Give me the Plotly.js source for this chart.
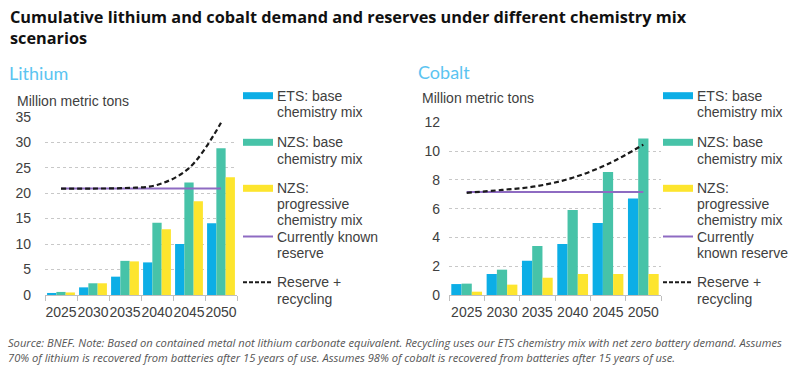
<!DOCTYPE html>
<html>
<head>
<meta charset="utf-8">
<script src="https://cdn.plot.ly/plotly-3.0.1.min.js"></script>
<style>html,body{margin:0;padding:0;background:#fff;}#chart{width:800px;height:375px;}</style>
</head>
<body>
<div id="chart"></div>
<script>
// ---- data ----
const years = ['2025', '2030', '2035', '2040', '2045', '2050'];
const lithiumEts = [0.4, 1.5, 3.6, 6.4, 10.0, 14.1];
const lithiumNzsBase = [0.6, 2.3, 6.7, 14.2, 22.1, 28.8];
const lithiumNzsProgressive = [0.5, 2.3, 6.6, 12.9, 18.4, 23.1];
const lithiumReserve = [20.9, 20.9, 20.9, 20.9, 20.9, 20.9];
const lithiumReserveRecycling = [20.9, 20.9, 21.0, 21.6, 24.9, 33.8];
const cobaltEts = [0.76, 1.46, 2.38, 3.54, 5.0, 6.7];
const cobaltNzsBase = [0.79, 1.76, 3.4, 5.9, 8.54, 10.88];
const cobaltNzsProgressive = [0.23, 0.72, 1.2, 1.46, 1.46, 1.46];
const cobaltReserve = [7.15, 7.15, 7.15, 7.15, 7.15, 7.15];
const cobaltReserveRecycling = [7.1, 7.3, 7.57, 8.15, 9.1, 10.45];
const lithiumTicks = [0, 5, 10, 15, 20, 25, 30, 35];
const cobaltTicks = [0, 2, 4, 6, 8, 10, 12];
const titleLines = ['Cumulative lithium and cobalt demand and reserves under different chemistry mix', 'scenarios'];
const legendLabelsLithium = [['ETS: base', 'chemistry mix'], ['NZS: base', 'chemistry mix'], ['NZS:', 'progressive', 'chemistry mix'], ['Currently known', 'reserve'], ['Reserve +', 'recycling']];
const legendLabelsCobalt = [['ETS: base', 'chemistry mix'], ['NZS: base', 'chemistry mix'], ['NZS:', 'progressive', 'chemistry mix'], ['Currently', 'known reserve'], ['Reserve +', 'recycling']];
const noteLines = ['Source: BNEF. Note: Based on contained metal not lithium carbonate equivalent. Recycling uses our ETS chemistry mix with net zero battery demand. Assumes',
  '70% of lithium is recovered from batteries after 15 years of use. Assumes 98% of cobalt is recovered from batteries after 15 years of use.'];

// ---- styles ----
const C_ETS = '#0CAEE6', C_NZS = '#47C3A8', C_PROG = '#FDE52E', C_RES = '#8E6BC2', C_RR = '#1a1a1a';
const TXT = '#404040';
const W = 800, H = 375;
const px = x => x / W, py = y => 1 - y / H;

function barTrace(y, color, xa, ya) {
  return {type: 'bar', x: years, y: y, xaxis: xa, yaxis: ya, marker: {color: color}, showlegend: false, hoverinfo: 'skip'};
}
function lineTrace(y, color, dash, xa, ya, w) {
  return {type: 'scatter', mode: 'lines', x: years, y: y, xaxis: xa, yaxis: ya,
    line: {color: color, width: w, dash: dash, shape: 'spline', smoothing: 1}, showlegend: false, hoverinfo: 'skip'};
}

const traces = [
  barTrace(lithiumEts, C_ETS, 'x', 'y'),
  barTrace(lithiumNzsBase, C_NZS, 'x', 'y'),
  barTrace(lithiumNzsProgressive, C_PROG, 'x', 'y'),
  lineTrace(lithiumReserve, C_RES, 'solid', 'x', 'y', 2),
  lineTrace(lithiumReserveRecycling, C_RR, '5px,3px', 'x', 'y', 2.2),
  barTrace(cobaltEts, C_ETS, 'x2', 'y2'),
  barTrace(cobaltNzsBase, C_NZS, 'x2', 'y2'),
  barTrace(cobaltNzsProgressive, C_PROG, 'x2', 'y2'),
  lineTrace(cobaltReserve, C_RES, 'solid', 'x2', 'y2', 2),
  lineTrace(cobaltReserveRecycling, C_RR, '5px,3px', 'x2', 'y2', 2.2)
];

const tickFont = {family: 'Liberation Sans, Arial, sans-serif', size: 14, color: TXT};
function xAxis(domain, anchor) {
  return {domain: domain, anchor: anchor, type: 'category', showline: true, linecolor: '#bfbfbf', linewidth: 1,
    ticks: 'outside', tickson: 'boundaries', ticklen: 5, tickcolor: '#bfbfbf', tickangle: 0, ticklabelstandoff: 4,
    showgrid: false, zeroline: false, tickfont: tickFont, fixedrange: true};
}
function yAxis(domain, anchor, range, tickvals, standoff) {
  return {domain: domain, anchor: anchor, range: range, tickvals: tickvals, ticktext: tickvals.map(String),
    showgrid: true, gridcolor: '#c8c8c8', griddash: 'dot', gridwidth: 1, zeroline: false, showline: false,
    ticks: '', ticklabelstandoff: standoff, tickfont: tickFont, fixedrange: true};
}

const annotations = [];
const shapes = [];
function ann(text, x, y, font, xanchor) {
  annotations.push({text: text, x: px(x), y: py(y), xref: 'paper', yref: 'paper', xanchor: xanchor || 'left', yanchor: 'middle',
    showarrow: false, font: font, align: 'left'});
}
const legFont = {family: 'Liberation Sans, Arial, sans-serif', size: 14, color: TXT};
const entryY = [95.7, 142.3, 188.3, 236.5, 282.3];
function legend(labels, swX, txtX) {
  labels.forEach((lines, i) => {
    const step = lines.length === 3 ? 15.8 : 16.5;
    lines.forEach((t, j) => ann(t, txtX, entryY[i] + j * step, legFont));
  });
  const sw = [C_ETS, C_NZS, C_PROG];
  sw.forEach((c, i) => shapes.push({type: 'rect', xref: 'paper', yref: 'paper', x0: px(swX), x1: px(swX + 30),
    y0: py(entryY[i] - 3.5), y1: py(entryY[i] + 3.5), fillcolor: c, line: {width: 0}}));
  shapes.push({type: 'line', xref: 'paper', yref: 'paper', x0: px(swX), x1: px(swX + 30), y0: py(entryY[3]), y1: py(entryY[3]),
    line: {color: C_RES, width: 2}});
  shapes.push({type: 'line', xref: 'paper', yref: 'paper', x0: px(swX), x1: px(swX + 30), y0: py(entryY[4]), y1: py(entryY[4]),
    line: {color: C_RR, width: 2, dash: '4px,2px'}});
}
legend(legendLabelsLithium, 243, 275);
legend(legendLabelsCobalt, 663, 695);

const titleFont = {family: 'Open Sans, sans-serif', size: 16.3, color: '#111111', weight: 'bold'};
ann('<b>' + titleLines[0] + '</b>', 8, 17, titleFont);
ann('<b>' + titleLines[1] + '</b>', 8, 38, titleFont);
const subFont = {family: 'Lato, Open Sans, sans-serif', size: 18, color: '#5BC4F1'};
ann('Lithium', 7, 73, subFont);
ann('Cobalt', 416, 72, subFont);
const unitFont = {family: 'Liberation Sans, Arial, sans-serif', size: 14, color: TXT};
ann('Million metric tons', 15, 101, unitFont);
ann('Million metric tons', 420, 98, unitFont);
const noteFont = {family: 'Open Sans, sans-serif', size: 11.15, color: '#555555'};
ann('<i>' + noteLines[0] + '</i>', 6, 342, noteFont);
ann('<i>' + noteLines[1] + '</i>', 6, 357, noteFont);

const layout = {
  width: W, height: H, margin: {l: 0, r: 0, t: 0, b: 0},
  paper_bgcolor: '#ffffff', plot_bgcolor: 'rgba(0,0,0,0)',
  barmode: 'group', bargap: 0.13, bargroupgap: 0,
  showlegend: false,
  xaxis: xAxis([px(45), px(237)], 'y'),
  yaxis: yAxis([py(295), py(116.7)], 'x', [0, 35], lithiumTicks, 13),
  xaxis2: xAxis([px(449), px(661)], 'y2'),
  yaxis2: yAxis([py(295), py(122.3)], 'x2', [0, 12], cobaltTicks, 8),
  annotations: annotations, shapes: shapes
};

Plotly.newPlot('chart', traces, layout, {displayModeBar: false, staticPlot: true});
</script>
</body>
</html>
